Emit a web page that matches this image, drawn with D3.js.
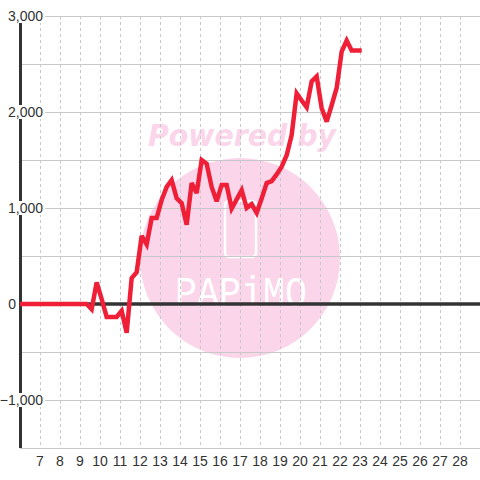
<!DOCTYPE html>
<html><head><meta charset="utf-8">
<script src="https://cdn.jsdelivr.net/npm/d3@7"></script>
<style>html,body{margin:0;padding:0;background:#fff;}svg{display:block;}</style>
</head><body>
<script>
// Data
const startDay = 6 + 1/12;
const stepDay = 0.25;
const values = [
  0,0,0,0,0,0,0,0,0,0,0,0,0,0,
  -55,225,50,-135,-135,-135,-70,-300,270,330,
  710,620,895,895,1085,1220,1290,1100,1050,825,
  1260,1155,1500,1460,1220,1070,1240,1240,995,1090,
  1185,1000,1040,950,1100,1260,1280,1350,1430,1550,
  1760,2195,2120,2050,2320,2370,2040,1900,2070,2250,
  2630,2745,2640,2640,2640
];
const xTicks = [7,8,9,10,11,12,13,14,15,16,17,18,19,20,21,22,23,24,25,26,27,28];
const yMajorTicks = [-1000,0,1000,2000,3000];
const yGridTicks = [-1500,-1000,-500,0,500,1000,1500,2000,2500,3000];

const W = 480, H = 480;
const svg = d3.select("body").append("svg").attr("width", W).attr("height", H);
svg.append("rect").attr("width", W).attr("height", H).attr("fill", "#fff");

const x = d3.scaleLinear().domain([6, 29]).range([20, 480]);
const y = d3.scaleLinear().domain([-1500, 3000]).range([448, 16]);

const points = [[6, 0]].concat(values.map((v, i) => [startDay + i * stepDay, v]));

// watermark
const wm = svg.append("g");
const pink = "#fbd5ea";
wm.append("circle").attr("cx", 240).attr("cy", 258).attr("r", 100).attr("fill", pink);
wm.append("text").attr("x", 148).attr("y", 146).attr("textLength", 188)
  .attr("lengthAdjust", "spacingAndGlyphs")
  .attr("font-family", "DejaVu Sans").attr("font-weight", "bold").attr("font-style", "italic")
  .attr("font-size", 31).attr("fill", pink).text("Powered by");
wm.append("rect").attr("x", 225).attr("y", 201).attr("width", 31).attr("height", 56).attr("rx", 4)
  .attr("fill", "none").attr("stroke", "#fff").attr("stroke-width", 2.5);
wm.append("text").attr("x", 175).attr("y", 306).attr("textLength", 132)
  .attr("lengthAdjust", "spacingAndGlyphs")
  .attr("font-family", "Liberation Mono").attr("font-weight", "normal")
  .attr("font-size", 42).attr("fill", "#fff")
  .text("PAPiMO");

// grid
const grid = svg.append("g");
grid.selectAll("line.v").data(xTicks.concat([29])).enter().append("line")
  .attr("x1", d => x(d) + 0.5).attr("x2", d => x(d) + 0.5).attr("y1", y(3000)).attr("y2", y(-1500))
  .attr("stroke", "#c8c8c8").attr("stroke-width", 1).attr("stroke-dasharray", "3,3");
grid.selectAll("line.h").data(yGridTicks).enter().append("line")
  .attr("x1", x(6)).attr("x2", x(29)).attr("y1", d => Math.round(y(d)) + 0.5).attr("y2", d => Math.round(y(d)) + 0.5)
  .attr("stroke", "#c8c8c8").attr("stroke-width", 1);

// y axis line
svg.append("line").attr("x1", 20.5).attr("x2", 20.5).attr("y1", y(3000)).attr("y2", y(-1500))
  .attr("stroke", "#333").attr("stroke-width", 3);
// zero line
svg.append("line").attr("x1", x(6)).attr("x2", x(29)).attr("y1", y(0)).attr("y2", y(0))
  .attr("stroke", "#333").attr("stroke-width", 3.5);

// y labels with white boxes
const fmt = d3.format(",");
const yl = svg.append("g");
yMajorTicks.forEach(t => {
  const g = yl.append("g");
  const ax = t === 0 ? 16 : 43;
  const txt = g.append("text").attr("x", ax).attr("y", y(t) + 5)
    .attr("text-anchor", "end").attr("font-family", "Liberation Sans, Arial, sans-serif")
    .attr("font-size", 14).attr("fill", "#333").text(fmt(t));
  const bb = txt.node().getBBox();
  g.insert("rect", "text").attr("x", bb.x - 1).attr("y", y(t) - 7).attr("width", bb.width + 3).attr("height", 14)
    .attr("fill", "#fff");
});

// x labels
svg.append("g").selectAll("text").data(xTicks).enter().append("text")
  .attr("x", d => x(d)).attr("y", 466).attr("text-anchor", "middle")
  .attr("font-family", "Liberation Sans, Arial, sans-serif").attr("font-size", 14).attr("fill", "#333")
  .text(d => d);

// series line
const line = d3.line().x(d => x(d[0])).y(d => y(d[1]));
svg.append("path").datum(points).attr("d", line).attr("fill", "none")
  .attr("stroke", "#ee1f37").attr("stroke-width", 4.5).attr("stroke-linejoin", "miter").attr("stroke-miterlimit", 3);
</script>
</body></html>
